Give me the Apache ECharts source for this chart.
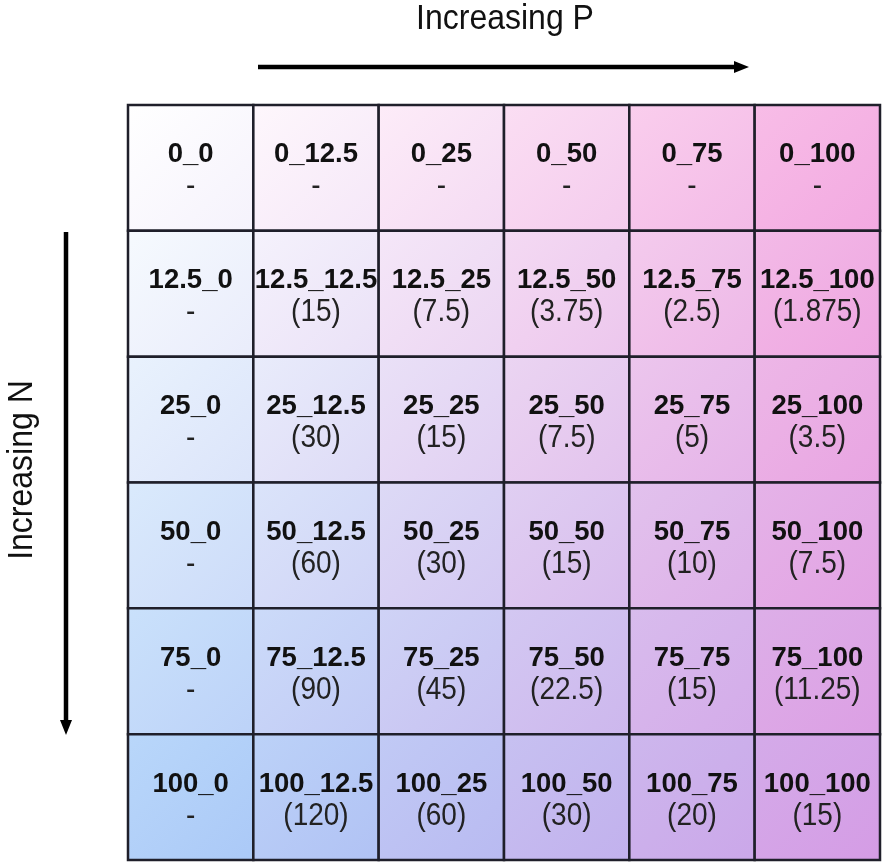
<!DOCTYPE html>
<html>
<head>
<meta charset="utf-8">
<script src="https://cdn.jsdelivr.net/npm/echarts@6/dist/echarts.min.js"></script>
<style>html,body{margin:0;padding:0;background:#fff;}#c{width:886px;height:867px;}</style>
</head>
<body>
<div id="c"></div>
<script>
// Categories
var pLevels = ['0', '12.5', '25', '50', '75', '100'];
var nLevels = ['0', '12.5', '25', '50', '75', '100'];
// N:P ratio shown in each cell, rows = N levels, columns = P levels (null = "-")
var ratioN0   = [null, null, null, null, null, null];
var ratioN12  = [null, 15, 7.5, 3.75, 2.5, 1.875];
var ratioN25  = [null, 30, 15, 7.5, 5, 3.5];
var ratioN50  = [null, 60, 30, 15, 10, 7.5];
var ratioN75  = [null, 90, 45, 22.5, 15, 11.25];
var ratioN100 = [null, 120, 60, 30, 20, 15];
var ratios = [ratioN0, ratioN12, ratioN25, ratioN50, ratioN75, ratioN100];

var FONT = "'Liberation Sans', Arial, sans-serif";

var data = [];
for (var r = 0; r < nLevels.length; r++) {
  for (var c = 0; c < pLevels.length; c++) {
    data.push([c, r, ratios[r][c]]);
  }
}

// corner colours of the background blend
var cTL = [255, 255, 255], cTR = [246, 170, 224], cBL = [167, 205, 249], cBR = [213, 156, 229];
function blend(u, v) {
  u = Math.pow(u, 1.35); v = Math.pow(v, 1.25);
  var out = [];
  for (var i = 0; i < 3; i++) {
    var top = cTL[i] + (cTR[i] - cTL[i]) * u;
    var bot = cBL[i] + (cBR[i] - cBL[i]) * u;
    out.push(Math.round(top + (bot - top) * v));
  }
  return 'rgb(' + out.join(',') + ')';
}

var chart = echarts.init(document.getElementById('c'), null, {renderer: 'canvas'});
chart.setOption({
  animation: false,
  grid: {left: 128, top: 105, right: 6, bottom: 7},
  xAxis: {type: 'category', data: pLevels, show: false},
  yAxis: {type: 'category', data: nLevels, inverse: true, show: false},
  graphic: [
    {type: 'text', x: 505, y: 19, scaleY: 1.1, style: {text: 'Increasing P', font: '32px ' + FONT, fill: '#111', align: 'center', verticalAlign: 'middle'}},
    {type: 'line', shape: {x1: 258, y1: 67, x2: 737, y2: 67}, style: {stroke: '#000', lineWidth: 4.5}},
    {type: 'polygon', shape: {points: [[734, 61], [749, 67], [734, 73]]}, style: {fill: '#000'}},
    {type: 'text', x: 22, y: 470, rotation: Math.PI / 2, scaleY: 1.1, style: {text: 'Increasing N', font: '32px ' + FONT, fill: '#111', align: 'center', verticalAlign: 'middle'}},
    {type: 'line', shape: {x1: 66, y1: 232, x2: 66, y2: 723}, style: {stroke: '#000', lineWidth: 4.5}},
    {type: 'polygon', shape: {points: [[60, 720], [66, 735], [72, 720]]}, style: {fill: '#000'}}
  ],
  series: [{
    type: 'custom',
    data: data,
    renderItem: function (params, api) {
      var xi = api.value(0), yi = api.value(1);
      var v = data[params.dataIndex][2];
      var p = api.coord([xi, yi]);
      var s = api.size([1, 1]);
      var x0 = p[0] - s[0] / 2, y0 = p[1] - s[1] / 2;
      var nc = pLevels.length, nr = nLevels.length;
      var c0 = blend(xi / nc, yi / nr), c1 = blend((xi + 1) / nc, (yi + 1) / nr);
      return {
        type: 'group',
        children: [
          {type: 'rect', shape: {x: x0, y: y0, width: s[0], height: s[1]},
           style: {fill: {type: 'linear', x: 0, y: 0, x2: 1, y2: 1, colorStops: [{offset: 0, color: c0}, {offset: 1, color: c1}]},
                   stroke: '#1f1f2a', lineWidth: 2.5}},
          {type: 'text', x: p[0], y: p[1] - 13,
           style: {text: nLevels[yi] + '_' + pLevels[xi], font: 'bold 27.5px ' + FONT, fill: '#111', align: 'center', verticalAlign: 'middle'}},
          {type: 'text', x: p[0], y: p[1] + 19, scaleY: 1.1,
           style: {text: v == null ? '-' : '(' + v + ')', font: '28px ' + FONT, fill: '#222', align: 'center', verticalAlign: 'middle'}}
        ]
      };
    }
  }]
});
</script>
</body>
</html>
